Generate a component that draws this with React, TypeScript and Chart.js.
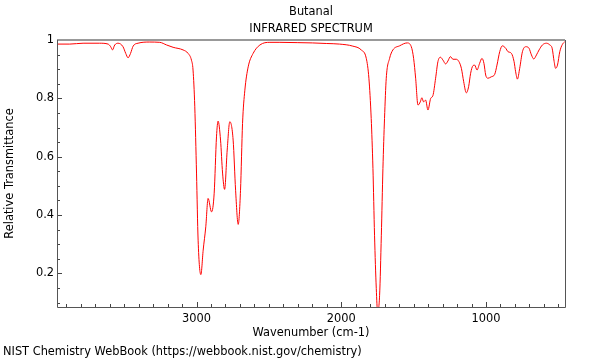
import React, { useEffect, useRef } from "react";
import { Chart, registerables } from "chart.js";

Chart.register(...registerables);

// ---- data ----
const wavenumbers = [
  3964, 3876, 3784, 3669, 3611, 3593, 3581, 3565, 3542, 3508, 3489, 3473, 3456, 3438, 3404,
  3323, 3254, 3207, 3162, 3093, 3058, 3035, 3024, 3012, 3000, 2989, 2970, 2954, 2936, 2920,
  2896, 2878, 2862, 2851, 2834, 2820, 2806, 2788, 2770, 2747, 2730, 2712, 2696, 2682, 2666,
  2643, 2609, 2562, 2493, 2424, 2300, 2200, 2100, 2012, 1920, 1862, 1827, 1809, 1793, 1781,
  1770, 1758, 1749, 1735, 1723, 1712, 1701, 1689, 1666, 1643, 1597, 1545, 1516, 1500, 1486,
  1470, 1454, 1443, 1431, 1417, 1401, 1382, 1367, 1348, 1332, 1315, 1297, 1279, 1263, 1246,
  1228, 1205, 1187, 1170, 1154, 1136, 1120, 1106, 1090, 1078, 1062, 1044, 1028, 1014, 1002,
  986, 963, 940, 924, 905, 887, 864, 848, 824, 806, 795, 783, 767, 748, 725,
  703, 686, 670, 651, 633, 610, 582, 559, 543, 529, 519, 506, 490, 472, 456,
];
const transmittance = [
  0.986, 0.986, 0.989, 0.989, 0.986, 0.977, 0.966, 0.983, 0.989, 0.977, 0.954, 0.939, 0.954, 0.979, 0.989,
  0.993, 0.992, 0.983, 0.975, 0.966, 0.954, 0.931, 0.897, 0.771, 0.544, 0.314, 0.196, 0.28, 0.36, 0.457,
  0.411, 0.475, 0.668, 0.722, 0.657, 0.544, 0.488, 0.623, 0.72, 0.657, 0.485, 0.368, 0.485, 0.714, 0.828,
  0.908, 0.954, 0.983, 0.992, 0.992, 0.991, 0.99, 0.988, 0.986, 0.979, 0.966, 0.937, 0.869, 0.731, 0.56,
  0.331, 0.149, 0.07, 0.125, 0.331, 0.56, 0.731, 0.869, 0.937, 0.966, 0.98, 0.99, 0.977, 0.937, 0.869,
  0.777, 0.788, 0.802, 0.788, 0.794, 0.76, 0.8, 0.809, 0.869, 0.926, 0.941, 0.931, 0.918, 0.928, 0.943,
  0.934, 0.934, 0.926, 0.903, 0.857, 0.819, 0.84, 0.886, 0.912, 0.914, 0.897, 0.92, 0.937, 0.92, 0.88,
  0.869, 0.874, 0.882, 0.914, 0.96, 0.98, 0.972, 0.96, 0.954, 0.926, 0.891, 0.866, 0.903, 0.96, 0.977,
  0.972, 0.949, 0.935, 0.949, 0.966, 0.983, 0.989, 0.983, 0.972, 0.926, 0.903, 0.914, 0.96, 0.985, 0.994,
];

const xTickValues = [1000, 2000, 3000];
const yTickValues = [0.2, 0.4, 0.6, 0.8, 1.0];
const xMinorStep = 100;
const yMinorStep = 0.05;

const titleLines = ["Butanal", "INFRARED SPECTRUM"];
const xAxisTitle = "Wavenumber (cm-1)";
const yAxisTitle = "Relative Transmittance";
const footerText = "NIST Chemistry WebBook (https://webbook.nist.gov/chemistry)";

const X_MIN = 454;
const X_MAX = 3964;
const Y_MIN = 0.085;
const Y_MAX = 1.0;

const FONT_FAMILY = '"DejaVu Sans", sans-serif';
const FONT_SIZE = 11.4;

const framePlugin = {
  id: "frameAndTicks",
  afterDatasetsDraw(chart: any) {
    const { ctx, chartArea, scales } = chart;
    const { left, right, top, bottom } = chartArea;
    const x = scales.x;
    const y = scales.y;
    ctx.save();
    // ticks (inward)
    ctx.strokeStyle = "#444";
    ctx.lineWidth = 1;
    ctx.beginPath();
    for (let k = Math.ceil(X_MIN / xMinorStep); k * xMinorStep <= X_MAX; k++) {
      const v = k * xMinorStep;
      const px = Math.round(x.getPixelForValue(v)) + 0.5;
      const len = v % 1000 === 0 ? 5 : 3;
      ctx.moveTo(px, bottom);
      ctx.lineTo(px, bottom - len);
    }
    for (let k = Math.ceil(Y_MIN / yMinorStep); k * yMinorStep <= Y_MAX + 1e-9; k++) {
      const v = k * yMinorStep;
      const py = Math.round(y.getPixelForValue(v)) + 0.5;
      const len = k % 4 === 0 ? 5 : 3;
      ctx.moveTo(left, py);
      ctx.lineTo(left + len, py);
    }
    ctx.stroke();
    // frame
    ctx.strokeStyle = "#999";
    ctx.lineWidth = 2;
    ctx.beginPath();
    ctx.moveTo(left, top);
    ctx.lineTo(right, top);
    ctx.stroke();
    ctx.strokeStyle = "#555";
    ctx.lineWidth = 1;
    ctx.beginPath();
    ctx.moveTo(Math.round(left) + 0.5, top);
    ctx.lineTo(Math.round(left) + 0.5, Math.round(bottom) + 0.5);
    ctx.lineTo(Math.round(right) + 0.5, Math.round(bottom) + 0.5);
    ctx.lineTo(Math.round(right) + 0.5, top);
    ctx.stroke();
    ctx.restore();
  },
  afterDraw(chart: any) {
    const { ctx, chartArea } = chart;
    const cx = (chartArea.left + chartArea.right) / 2;
    ctx.save();
    ctx.fillStyle = "#000";
    ctx.font = `${FONT_SIZE}px ${FONT_FAMILY}`;
    ctx.textAlign = "center";
    ctx.textBaseline = "middle";
    ctx.fillText(titleLines[0], cx, 12.5);
    ctx.fillText(titleLines[1], cx, 29.5);
    ctx.textAlign = "left";
    ctx.fillText(footerText, 3, 352.5);
    ctx.restore();
  },
};

export default function App() {
  const canvasRef = useRef<HTMLCanvasElement | null>(null);

  useEffect(() => {
    const canvas = canvasRef.current;
    if (!canvas) return;
    const points = wavenumbers.map((w, i) => ({ x: w, y: transmittance[i] }));
    const chart = new Chart(canvas, {
      type: "line",
      data: {
        datasets: [
          {
            data: points,
            borderColor: "#ff0000",
            borderWidth: 1,
            pointRadius: 0,
            fill: false,
            cubicInterpolationMode: "monotone",
          },
        ],
      },
      options: {
        animation: false,
        responsive: false,
        maintainAspectRatio: false,
        devicePixelRatio: 1,
        layout: { padding: { top: 40, right: 35, left: 0, bottom: 0 } },
        plugins: {
          legend: { display: false },
          tooltip: { enabled: false },
          title: { display: false },
        },
        scales: {
          x: {
            type: "linear",
            reverse: true,
            min: X_MIN,
            max: X_MAX,
            grid: { display: false, drawTicks: false },
            border: { display: false },
            afterBuildTicks: (scale: any) => {
              scale.ticks = xTickValues.map((v) => ({ value: v }));
            },
            afterFit: (scale: any) => {
              scale.height = 53;
            },
            ticks: {
              autoSkip: false,
              maxRotation: 0,
              padding: 5,
              color: "#000",
              font: { family: FONT_FAMILY, size: FONT_SIZE },
              callback: (v: any) => String(v),
            },
            title: {
              display: true,
              text: xAxisTitle,
              color: "#000",
              font: { family: FONT_FAMILY, size: FONT_SIZE },
              padding: { top: 0, bottom: 20 },
            },
          },
          y: {
            type: "linear",
            min: Y_MIN,
            max: Y_MAX,
            grid: { display: false, drawTicks: false },
            border: { display: false },
            afterBuildTicks: (scale: any) => {
              scale.ticks = yTickValues.map((v) => ({ value: v }));
            },
            afterFit: (scale: any) => {
              scale.width = 57;
            },
            ticks: {
              padding: 3,
              color: "#000",
              font: { family: FONT_FAMILY, size: FONT_SIZE },
              callback: (v: any) => (Math.abs(v - 1) < 1e-9 ? "1" : Number(v).toFixed(1)),
            },
            title: {
              display: true,
              text: yAxisTitle,
              color: "#000",
              font: { family: FONT_FAMILY, size: FONT_SIZE },
              padding: { top: 3, bottom: 0 },
            },
          },
        },
      },
      plugins: [framePlugin],
    });
    return () => chart.destroy();
  }, []);

  return (
    <div style={{ position: "absolute", left: 0, top: 0, width: 600, height: 360, background: "#fff" }}>
      <canvas ref={canvasRef} width={600} height={360} style={{ display: "block" }} />
    </div>
  );
}
